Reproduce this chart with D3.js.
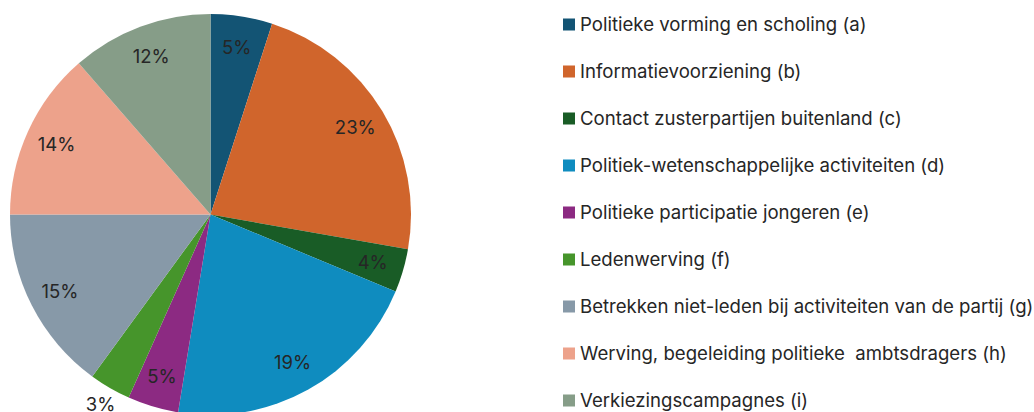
<!DOCTYPE html>
<html><head><meta charset="utf-8">
<script src="https://cdn.jsdelivr.net/npm/d3@7"></script>
<style>html,body{margin:0;padding:0;background:#fff;overflow:hidden}</style>
</head><body>
<svg id="c" width="1034" height="412"></svg>
<script>
const categories = [
  "Politieke vorming en scholing (a)",
  "Informatievoorziening (b)",
  "Contact zusterpartijen buitenland (c)",
  "Politiek-wetenschappelijke activiteiten (d)",
  "Politieke participatie jongeren (e)",
  "Ledenwerving (f)",
  "Betrekken niet-leden bij activiteiten van de partij (g)",
  "Werving, begeleiding politieke  ambtsdragers (h)",
  "Verkiezingscampagnes (i)"
];
const values = [4.97, 22.8, 3.5, 21.3, 4.1, 3.35, 14.95, 13.6, 11.4];
const percentLabels = ["5%", "23%", "4%", "19%", "5%", "3%", "15%", "14%", "12%"];
const colors = ["#135474", "#D0652C", "#195C26", "#0F8CBF", "#8C2A82", "#46952B", "#8799A8", "#EDA28B", "#869D88"];

const svg = d3.select("#c");
const font = "Inter, 'Open Sans', sans-serif";
const cx = 210.5, cy = 214.5, R = 200.5;

const pie = d3.pie().sort(null).value(d => d)(values);
const arc = d3.arc().innerRadius(0).outerRadius(R);
const labelArc = d3.arc().innerRadius(169).outerRadius(169);
const outArc = d3.arc().innerRadius(219).outerRadius(219);

const g = svg.append("g").attr("transform", `translate(${cx},${cy})`);
g.selectAll("path").data(pie).join("path")
  .attr("d", arc).attr("fill", (d, i) => colors[i]);

g.selectAll("text").data(pie).join("text")
  .attr("transform", (d, i) => `translate(${(i === 5 ? outArc : labelArc).centroid(d)})`)
  .attr("text-anchor", "middle").attr("dy", "0.36em")
  .attr("font-family", font).attr("font-size", 18.5).attr("fill", "#262626")
  .text((d, i) => percentLabels[i]);

const leg = svg.append("g");
const rowY = d3.scalePoint().domain(d3.range(categories.length)).range([24.5, 400.5]);
const item = leg.selectAll("g").data(categories).join("g")
  .attr("transform", (d, i) => `translate(563,${rowY(i)})`);
item.append("rect").attr("x", 0).attr("y", -6).attr("width", 12).attr("height", 12)
  .attr("fill", (d, i) => colors[i]);
item.append("text").attr("x", 17).attr("dy", "0.36em")
  .attr("font-family", font).attr("font-size", 18.6).attr("fill", "#262626")
  .attr("xml:space", "preserve").style("white-space", "pre")
  .text(d => d);
</script>
</body></html>
